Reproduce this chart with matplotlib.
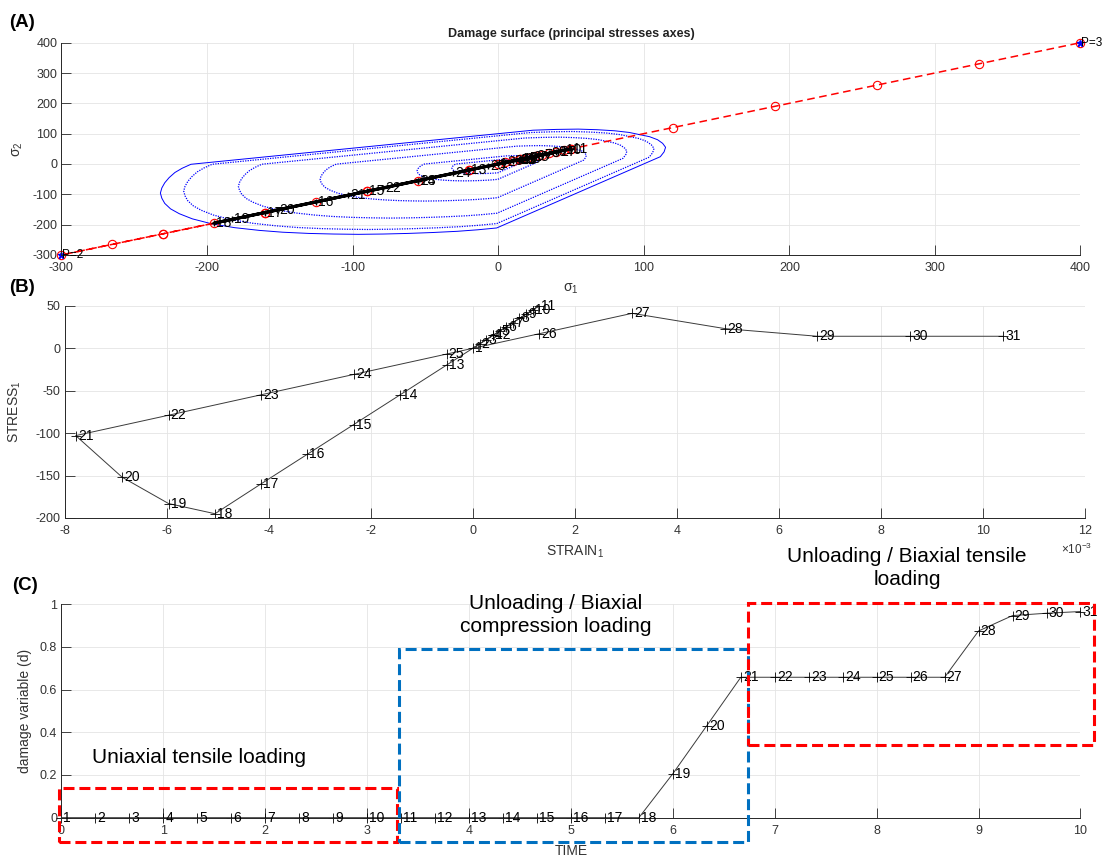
import numpy as np
import matplotlib.pyplot as plt
from matplotlib.patches import Rectangle
from matplotlib.ticker import FormatStrFormatter

plt.rcParams['font.family'] = ['Liberation Sans', 'DejaVu Sans']
plt.rcParams['mathtext.fontset'] = 'custom'
plt.rcParams['mathtext.rm'] = 'Liberation Sans'
plt.rcParams['mathtext.it'] = 'Liberation Sans:italic'
plt.rcParams['axes.unicode_minus'] = False

# load steps of the biaxial test
steps = list(range(1, 32))
time = [0.0, 0.333, 0.667, 1.0, 1.333, 1.667, 2.0, 2.333, 2.667, 3.0, 3.333,
        3.667, 4.0, 4.333, 4.667, 5.0, 5.333, 5.667, 6.0, 6.333, 6.667,
        7.0, 7.333, 7.667, 8.0, 8.333, 8.667, 9.0, 9.333, 9.667, 10.0]
strain = [0.0, 0.13, 0.26, 0.39, 0.52, 0.65, 0.78, 0.91, 1.04, 1.17, 1.30,
          0.39, -0.52, -1.43, -2.34, -3.25, -4.16, -5.06, -5.97, -6.88, -7.79,
          -5.97, -4.16, -2.34, -0.52, 1.30, 3.12, 4.94, 6.75, 8.57, 10.39]  # x1e-3
stress = [0, 5, 10, 15, 20, 25, 30, 35, 40, 45, 50,
          15, -20, -55, -90, -125, -160, -195, -183, -152, -103,
          -79, -55, -31, -7, 17, 41, 23, 14, 14, 14]
stress_eff = [0, 5, 10, 15, 20, 25, 30, 35, 40, 45, 50,
              15, -20, -55, -90, -125, -160, -195, -230, -265, -300,
              -230, -160, -90, -20, 50, 120, 190, 260, 330, 400]
damage = [0, 0, 0, 0, 0, 0, 0, 0, 0, 0, 0, 0, 0, 0, 0, 0, 0, 0,
          0.206, 0.431, 0.658, 0.658, 0.658, 0.658, 0.658, 0.658, 0.658,
          0.875, 0.947, 0.958, 0.966]

# damage surface outline, half with sigma2 >= sigma1 (tension tip -> compression tip)
surf_s1 = [97, 90, 80, 68, 55, 40, 24, -211, -217, -222, -226, -229, -231,
           -232, -231, -229, -225, -219, -210, -197]
surf_s2 = [97, 104, 109.5, 113, 115, 114, 111.4, -1, -14, -28, -45, -62, -79,
           -96, -113, -130, -148, -164, -181, -197]
surf_level = [1.0, 0.931, 0.769, 0.527, 0.24, 0.137]

# loading stage boxes: (t0, d0, t1, d1)
stage_boxes = [(-0.025, -0.112, 3.298, 0.14),
               (3.309, -0.112, 6.737, 0.792),
               (6.742, 0.341, 10.13, 1.007)]
stage_colors = ['#ff0000', '#0070c0', '#ff0000']

TXT = '#333333'


def style_axes(ax):
    for sp in ['top', 'right']:
        ax.spines[sp].set_visible(False)
    for sp in ['left', 'bottom']:
        ax.spines[sp].set_color('#262626')
        ax.spines[sp].set_linewidth(0.7)
    ax.tick_params(direction='in', length=7, width=0.6, color='#262626',
                   labelsize=9, labelcolor=TXT)
    ax.tick_params(axis='x', pad=5)
    ax.tick_params(axis='y', pad=3)
    ax.grid(True, color='#e4e4e4', lw=0.6)
    ax.set_axisbelow(True)


fig = plt.figure(figsize=(11.04, 8.57), dpi=100)

# ---------------- (A) damage surface ----------------
axA = fig.add_axes([0.0556, 0.7025, 0.9231, 0.2477])
style_axes(axA)
s1_closed = np.array(surf_s1 + surf_s2[::-1])
s2_closed = np.array(surf_s2 + surf_s1[::-1])
for i, lev in enumerate(surf_level):
    if i == 0:
        axA.plot(s1_closed * lev, s2_closed * lev, color='blue', lw=0.7)
    else:
        axA.plot(s1_closed * lev, s2_closed * lev, color='blue', lw=0.9,
                 ls=(0, (1, 1)))
axA.plot(stress_eff, stress_eff, color='red', ls=(0, (5, 3)), lw=1.1,
         marker='o', ms=6, mfc='none', mec='red', mew=0.8, clip_on=False)
axA.plot(stress, stress, color='black', lw=2.2, marker='+', ms=5, clip_on=False)
p_lo, p_hi = min(stress_eff), max(stress_eff)
axA.plot([p_lo, p_hi], [p_lo, p_hi], ls='none', marker='*', color='blue',
         ms=4.5, clip_on=False)
for k, s in zip(steps, stress):
    axA.annotate(str(k), (s, s), xytext=(1.5, 0), textcoords='offset points',
                 va='center', ha='left', fontsize=10)
axA.annotate('P=2', (p_lo, p_lo), xytext=(0.5, 0), textcoords='offset points',
             va='center', ha='left', fontsize=8.5)
axA.annotate('P=3', (p_hi, p_hi), xytext=(0.5, 0), textcoords='offset points',
             va='center', ha='left', fontsize=8.5)
axA.set_xlim(-300, 400)
axA.set_ylim(-300, 400)
axA.set_xticks(np.arange(-300, 401, 100))
axA.set_yticks(np.arange(-300, 401, 100))
axA.set_title('Damage surface (principal stresses axes)', fontsize=9,
              fontweight='bold', pad=4, color='#222222')
axA.set_xlabel('σ$_1$', fontsize=10, color=TXT)
axA.set_ylabel('σ$_2$', fontsize=10, color=TXT)
axA.xaxis.set_label_coords(0.5, -0.125)
axA.yaxis.set_label_coords(-0.036, 0.5)

# ---------------- (B) stress-strain ----------------
axB = fig.add_axes([0.0589, 0.3956, 0.9239, 0.2477])
style_axes(axB)
axB.plot(strain, stress, color='#3a3a3a', lw=0.7, marker='+', ms=7,
         mec='black', mew=0.6)
for k, e, s in zip(steps, strain, stress):
    axB.annotate(str(k), (e, s), xytext=(1.5, 0), textcoords='offset points',
                 va='center', ha='left', fontsize=10)
axB.set_xlim(-8, 12)
axB.set_ylim(-200, 50)
axB.set_xticks(np.arange(-8, 13, 2))
axB.set_yticks(np.arange(-200, 51, 50))
axB.set_xlabel('STRAIN$_1$', fontsize=10, color=TXT)
axB.set_ylabel('STRESS$_1$', fontsize=10, color=TXT)
axB.xaxis.set_label_coords(0.5, -0.12)
axB.yaxis.set_label_coords(-0.041, 0.5)
axB.text(1.007, -0.113, r'$\times10^{-3}$', transform=axB.transAxes,
         ha='right', va='top', fontsize=8.5, color=TXT)

# ---------------- (C) damage evolution ----------------
axC = fig.add_axes([0.0556, 0.0459, 0.9231, 0.2490])
style_axes(axC)
axC.plot(time, damage, color='#3a3a3a', lw=0.7, marker='+', ms=7,
         mec='black', mew=0.6, clip_on=False)
for k, t, d in zip(steps, time, damage):
    axC.annotate(str(k), (t, d), xytext=(1.5, 0), textcoords='offset points',
                 va='center', ha='left', fontsize=10)
axC.set_xlim(0, 10)
axC.set_ylim(0, 1)
axC.set_xticks(np.arange(0, 11, 1))
axC.set_yticks(np.arange(0, 1.01, 0.2))
axC.yaxis.set_major_formatter(FormatStrFormatter('%g'))
axC.set_xlabel('TIME', fontsize=10, color=TXT)
axC.set_ylabel('damage variable (d)', fontsize=10, color=TXT)
axC.xaxis.set_label_coords(0.5, -0.125)
axC.yaxis.set_label_coords(-0.029, 0.5)

for (t0, d0, t1, d1), c in zip(stage_boxes, stage_colors):
    axC.add_patch(Rectangle((t0, d0), t1 - t0, d1 - d0, fill=False, ec=c,
                            lw=2.2, ls=(0, (3.6, 1.6)), clip_on=False, zorder=5))

axC.text(0.30, 0.28, 'Uniaxial tensile loading', ha='left', va='center',
         fontsize=15)
axC.text(4.85, 0.95, 'Unloading / Biaxial\ncompression loading', ha='center',
         va='center', fontsize=15, linespacing=1.25)
axC.text(8.30, 1.17, 'Unloading / Biaxial tensile\nloading', ha='center',
         va='center', fontsize=15, linespacing=1.25)

# panel tags
fig.text(0.008, 0.984, '(A)', fontsize=13.5, fontweight='bold', va='top')
fig.text(0.008, 0.674, '(B)', fontsize=13.5, fontweight='bold', va='top')
fig.text(0.011, 0.327, '(C)', fontsize=13.5, fontweight='bold', va='top')

fig.savefig('out.png', dpi=100, facecolor='white')
